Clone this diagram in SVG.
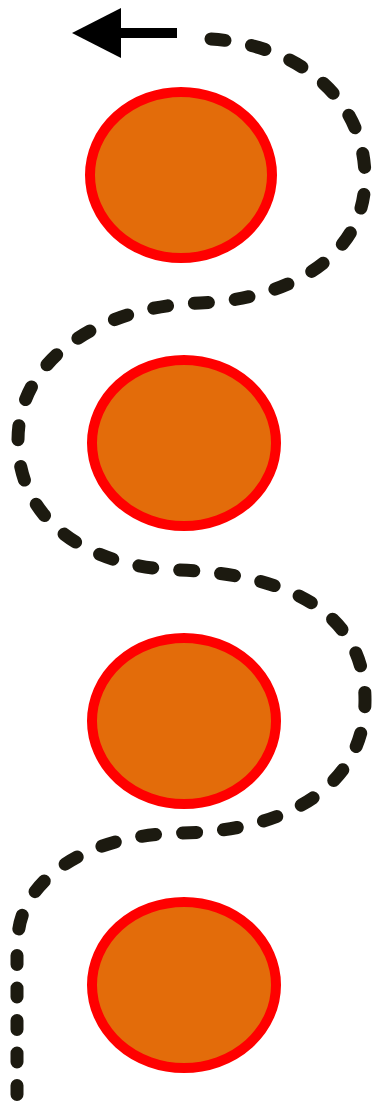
<svg xmlns="http://www.w3.org/2000/svg" width="378" height="1106" viewBox="0 0 378 1106">
<style>
.node{fill:#e36c0a;stroke:#ff0000;stroke-width:10}
.path{fill:none;stroke:#1c1a10;stroke-width:13;stroke-linecap:round}
</style>
<rect width="378" height="1106" fill="#ffffff"/>
<g id="connectors">
<path class="path" stroke-dasharray="14 27" d="M211,39 C300,45 365,100 365,178 C365,262 280,300 200,303 C100,306 18,360 18,440 C18,522 90,568 180,570 C300,575 365,620 365,700 C365,790 280,832 180,833 C80,835 18,885 18,940"/>
<path class="path" stroke-dasharray="9 23.5" d="M17,955.5 L17,1100"/>
<g id="arrow">
<rect x="119" y="28" width="58" height="10" fill="#000000"/>
<polygon points="72,33 121,8 121,58" fill="#000000"/>
</g>
</g>
<g id="node1"><ellipse class="node" cx="181" cy="175" rx="91" ry="83"/></g>
<g id="node2"><ellipse class="node" cx="184" cy="443" rx="92" ry="83"/></g>
<g id="node3"><ellipse class="node" cx="184" cy="721" rx="92" ry="83"/></g>
<g id="node4"><ellipse class="node" cx="184" cy="985" rx="92" ry="83"/></g>
</svg>
